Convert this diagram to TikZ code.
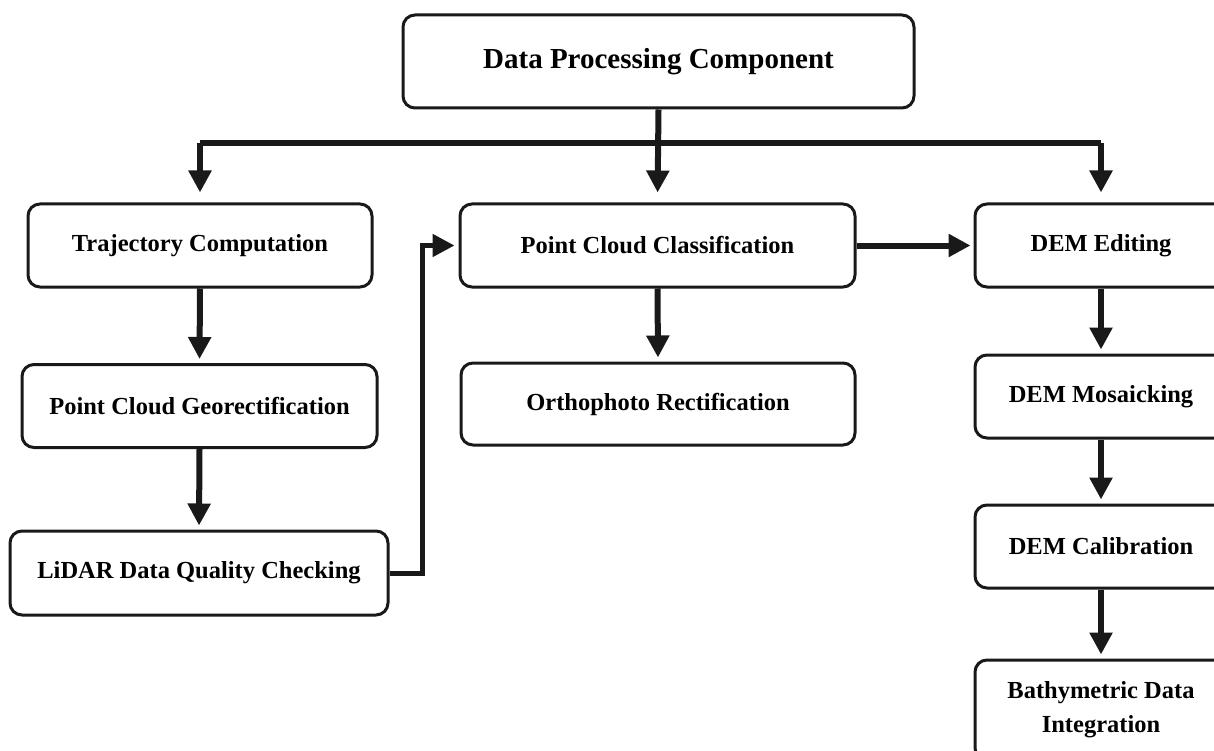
\documentclass[tikz,border=0pt]{standalone}
\usepackage{fontspec}
\setmainfont{Liberation Serif}
\usetikzlibrary{arrows.meta}
\begin{document}
\begin{tikzpicture}[x=1pt,y=-1pt,
  box/.style={draw=black!90, line width=3pt, rounded corners=12pt, fill=white,
    inner sep=0pt, align=center, font=\fontsize{24.5}{34}\selectfont\bfseries},
  conn/.style={draw=black!90, line width=6pt},
  arr/.style={conn, -{Triangle[width=22pt,length=22pt]}}]
\useasboundingbox (0,0) rectangle (1214,751);
\clip (0,0) rectangle (1214,751);
\node[box, minimum width=511pt, minimum height=93pt, font=\fontsize{29}{34}\selectfont\bfseries] (top) at (658.5,61.5) {Data Processing Component};
\node[box, minimum width=344pt, minimum height=83pt] (traj) at (200,245.5) {Trajectory Computation};
\node[box, minimum width=355pt, minimum height=83pt] (geo) at (199.5,406) {Point Cloud Georectification};
\node[box, minimum width=378pt, minimum height=84pt] (lidar) at (199,573) {LiDAR Data Quality Checking};
\node[box, minimum width=395pt, minimum height=83pt] (pcc) at (657.5,245.5) {Point Cloud Classification};
\node[box, minimum width=394pt, minimum height=82pt] (ortho) at (658,404) {Orthophoto Rectification};
\node[box, minimum width=252pt, minimum height=83pt] (dem1) at (1101,245.5) {DEM Editing};
\node[box, minimum width=252pt, minimum height=83pt] (dem2) at (1101,396.5) {DEM Mosaicking};
\node[box, minimum width=252pt, minimum height=83pt] (dem3) at (1101,546.5) {DEM Calibration};
\node[box, minimum width=252pt, minimum height=100pt] (bath) at (1101,710) {Bathymetric Data\\Integration};
\coordinate (bus) at (658.5,143);
\coordinate (up) at (422,573);
\draw[conn] (traj.north |- bus) -- (dem1.north |- bus);
\draw[arr, shorten >=10pt] (top.south) -- (pcc.north);
\draw[arr, shorten >=10pt] (traj.north |- bus) -- (traj.north);
\draw[arr, shorten >=10pt] (dem1.north |- bus) -- (dem1.north);
\draw[arr, shorten >=4pt] (traj.south) -- (geo.north);
\draw[arr, shorten >=4pt] (geo.south) -- (lidar.north);
\draw[arr, line width=5pt, shorten >=4pt] (lidar.east) -- (up) |- (pcc.west);
\draw[arr, shorten >=3pt] (pcc.east) -- (dem1.west);
\draw[arr, shorten >=4pt] (pcc.south) -- (ortho.north);
\draw[arr, shorten >=4pt] (dem1.south) -- (dem2.north);
\draw[arr, shorten >=4pt] (dem2.south) -- (dem3.north);
\draw[arr, shorten >=4pt] (dem3.south) -- (bath.north);
\end{tikzpicture}
\end{document}
